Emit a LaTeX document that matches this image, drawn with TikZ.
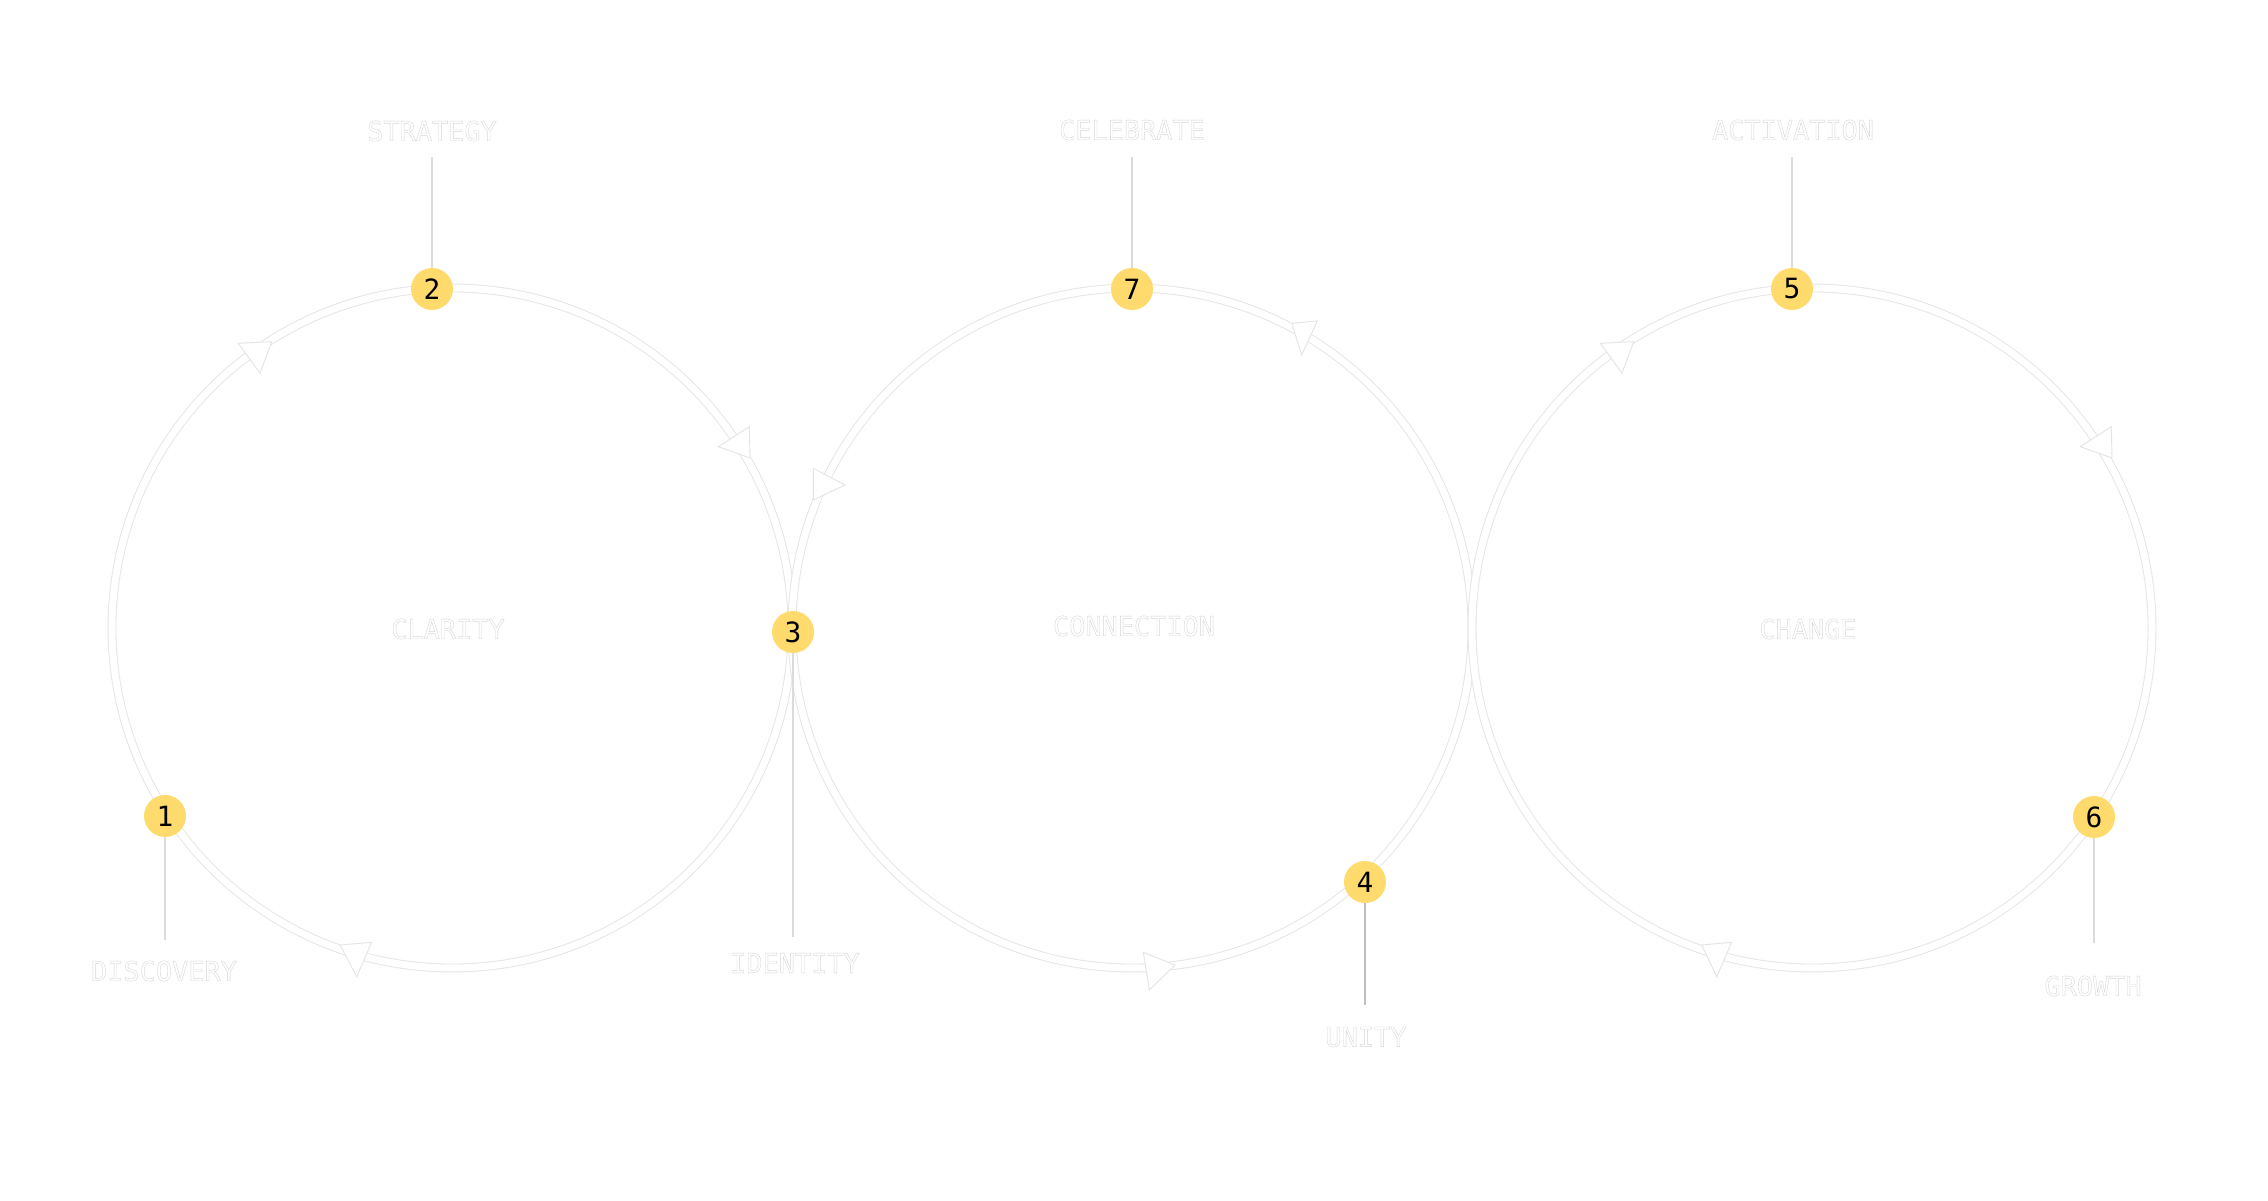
\documentclass[tikz,border=0pt]{standalone}
\usepackage{fontspec}
\newfontfamily\labfont{DejaVu Sans Mono}
\definecolor{badge}{RGB}{255,219,110}
\definecolor{ring}{RGB}{228,228,228}
\tikzset{
  ringline/.style={draw=ring, line width=0.9bp, double=white, double distance=7bp},
  badgenode/.style={circle, fill=badge, minimum size=42bp, inner sep=0pt,
    font=\labfont\fontsize{28}{28}\selectfont, text=black},
  lbl/.style={font=\labfont\fontsize{27}{27}\selectfont, inner sep=0pt, text=white},
  leader/.style={draw=black!14, line width=1.5bp},
  tri/.style={fill=white, draw=ring, line width=0.9bp, line join=miter},
}
\newcommand{\outl}[1]{\special{pdf:literal direct 0.84 G 0.4 w 2 Tr}#1\special{pdf:literal direct 0 Tr}}
\begin{document}
\begin{tikzpicture}[x=1bp,y=1bp]
\fill[white] (0,0) rectangle (2268,1200);
\useasboundingbox (0,0) rectangle (2268,1200);
% rings
\coordinate (c1) at (452,572);
\coordinate (c2) at (1132,572);
\coordinate (c3) at (1812,572);
\draw[ringline] (c1) circle[radius=340];
\draw[ringline] (c2) circle[radius=340];
\draw[ringline] (c3) circle[radius=340];
% arrow heads
\filldraw[tri] (238.3,856.7) -- (271.7,858.3) -- (260,826.7) -- cycle;
\filldraw[tri] (749.3,773.3) -- (718.3,753.3) -- (750,742) -- cycle;
\filldraw[tri] (340,255) -- (371.7,257.7) -- (356.7,223.3) -- cycle;
\filldraw[tri] (813.3,731.7) -- (845,715) -- (813.3,700) -- cycle;
\filldraw[tri] (1291.7,876.7) -- (1317.3,879) -- (1301.7,845) -- cycle;
\filldraw[tri] (1143.3,247.7) -- (1175,235) -- (1149.3,210) -- cycle;
\filldraw[tri] (1600.3,856.7) -- (1633.7,858.3) -- (1622,826.7) -- cycle;
\filldraw[tri] (2111.3,773.3) -- (2080.3,753.3) -- (2112,742) -- cycle;
\filldraw[tri] (1701.7,255) -- (1731.7,257.7) -- (1716.7,223.3) -- cycle;
% centre labels
\node[lbl] (clarity) at (448,571) {\outl{CLARITY}};
\node[lbl] (connection) at (1134,574) {\outl{CONNECTION}};
\node[lbl] (change) at (1808,571) {\outl{CHANGE}};
% badges
\node[badgenode] (b1) at (165,384) {1};
\node[badgenode] (b2) at (432,911) {2};
\node[badgenode] (b3) at (793,568) {3};
\node[badgenode] (b4) at (1365,318) {4};
\node[badgenode] (b5) at (1792,911) {5};
\node[badgenode] (b6) at (2094,383) {6};
\node[badgenode] (b7) at (1132,911) {7};
% outer labels
\node[lbl] (discovery) at (164,229) {\outl{DISCOVERY}};
\node[lbl] (strategy) at (432,1069) {\outl{STRATEGY}};
\node[lbl] (identity) at (795,237) {\outl{IDENTITY}};
\node[lbl] (unity) at (1366,163) {\outl{UNITY}};
\node[lbl] (activation) at (1793,1070) {\outl{ACTIVATION}};
\node[lbl] (growth) at (2093,214) {\outl{GROWTH}};
\node[lbl] (celebrate) at (1132,1070) {\outl{CELEBRATE}};
% leader ends
\coordinate (l1) at (165,260);
\coordinate (l2) at (432,1043);
\coordinate (l3) at (793,263);
\coordinate (l4) at (1365,195);
\coordinate (l5) at (1792,1043);
\coordinate (l6) at (2094,257);
\coordinate (l7) at (1132,1043);
\draw[leader] (b1) -- (l1);
\draw[leader] (b2) -- (l2);
\draw[leader] (b3) -- (l3);
\draw[leader, draw=black!25] (b4) -- (l4);
\draw[leader] (b5) -- (l5);
\draw[leader] (b6) -- (l6);
\draw[leader] (b7) -- (l7);
\end{tikzpicture}
\end{document}
